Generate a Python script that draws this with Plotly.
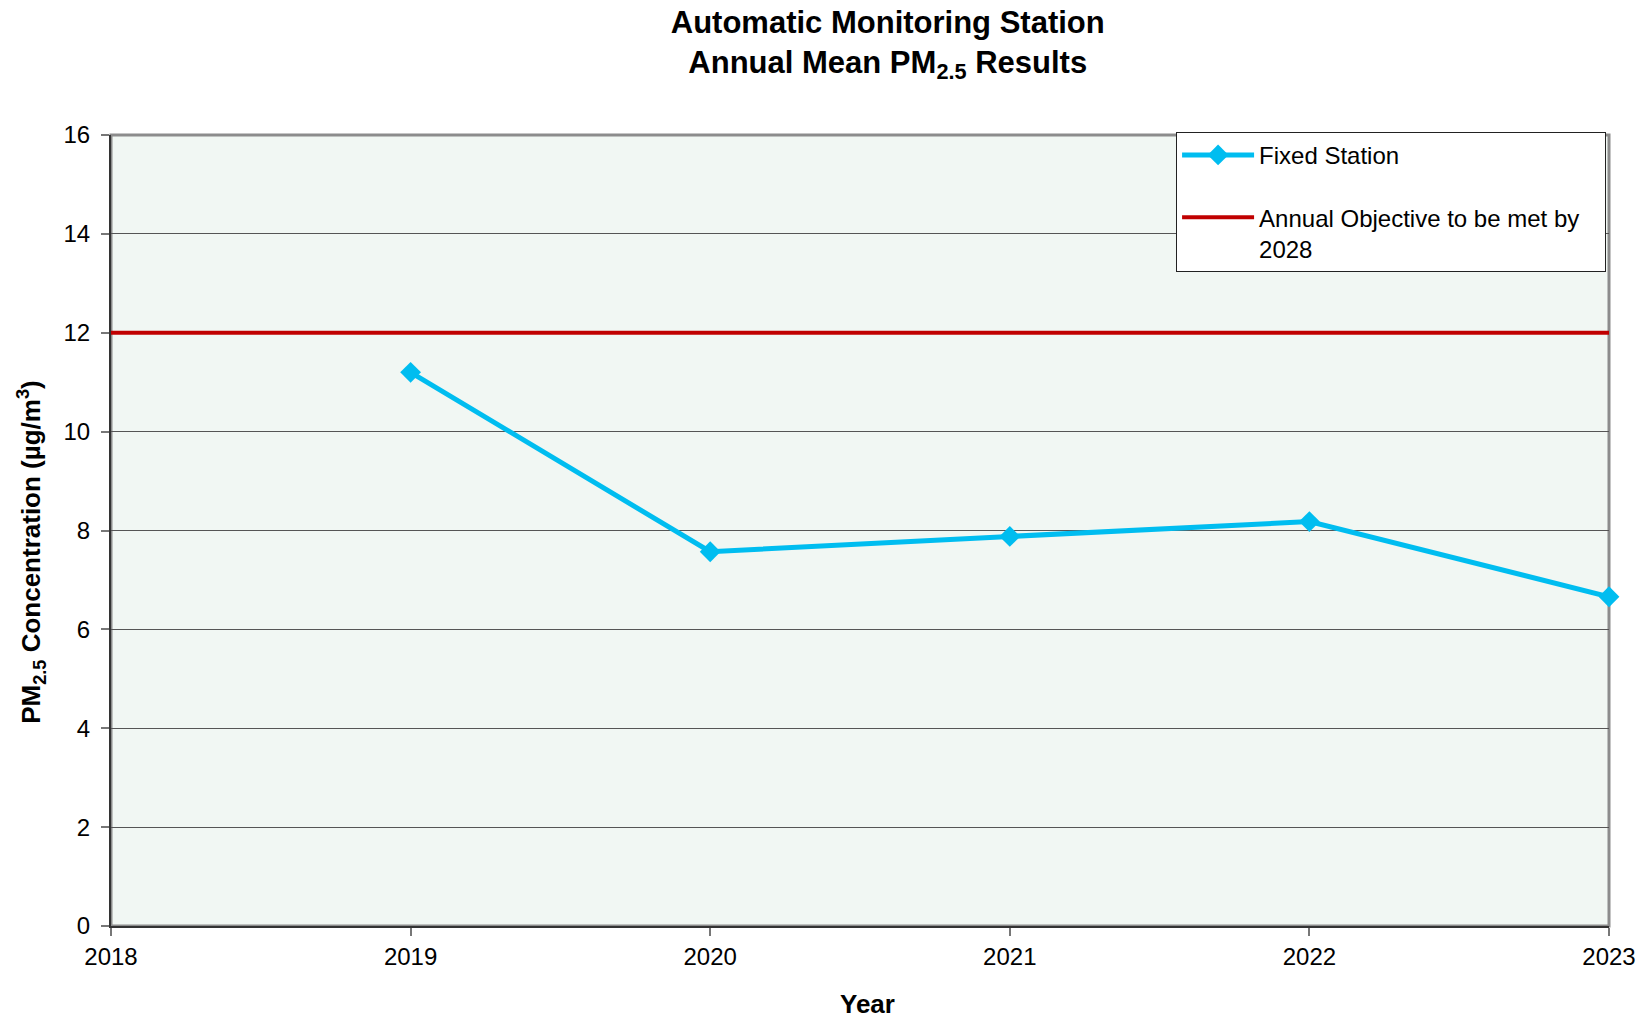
import plotly.graph_objects as go

years = [2019, 2020, 2021, 2022, 2023]
fixed_station = [11.2, 7.57, 7.88, 8.18, 6.66]
objective_x = [2018, 2023]
objective_y = [12, 12]
x_ticks = [2018, 2019, 2020, 2021, 2022, 2023]
y_ticks = [0, 2, 4, 6, 8, 10, 12, 14, 16]

FONT = "Liberation Sans, Arial, sans-serif"
NB = "\u00a0"

fig = go.Figure()
fig.add_trace(go.Scatter(
    x=years, y=fixed_station, name="Fixed Station", mode="lines+markers",
    line=dict(color="#00BDF0", width=5),
    marker=dict(symbol="diamond", size=16, color="#00BDF0"),
    legendgroup="a", cliponaxis=False,
))
fig.add_trace(go.Scatter(
    x=objective_x, y=objective_y,
    name="Annual Objective to be met by" + NB * 3 + "<br>2028",
    mode="lines", line=dict(color="#C00000", width=4),
    legendgroup="b", cliponaxis=False,
))

fig.update_layout(
    width=1644, height=1020,
    margin=dict(l=111, r=35, t=135, b=94, autoexpand=False),
    paper_bgcolor="white",
    plot_bgcolor="#F1F7F3",
    font=dict(family=FONT, size=24, color="black"),
    title=dict(
        text="<b>Automatic Monitoring Station<br>Annual Mean PM<sub>2.5</sub> Results</b>",
        x=0.54, xanchor="center", y=0.968, yanchor="top",
        font=dict(family=FONT, size=31, color="black"),
    ),
    showlegend=True,
    legend=dict(
        x=0.711, y=1.004, xanchor="left", yanchor="top",
        bgcolor="white", bordercolor="#222222", borderwidth=1,
        font=dict(family=FONT, size=24, color="black"),
        traceorder="grouped", tracegroupgap=28, valign="top",
        itemwidth=72,
    ),
    shapes=[dict(
        type="rect", xref="paper", yref="paper", x0=0, y0=0, x1=1, y1=1,
        line=dict(color="#8C8C8C", width=3), layer="below",
    )],
    annotations=[
        dict(text="<b>PM<sub>2.5</sub> Concentration (µg/m<sup>3</sup>)</b>",
             xref="paper", yref="paper", x=-0.0534, y=0.473,
             xanchor="center", yanchor="middle", textangle=-90,
             showarrow=False, font=dict(family=FONT, size=26, color="black")),
        dict(text="<b>Year</b>",
             xref="paper", yref="paper", x=0.505, y=-0.0986,
             xanchor="center", yanchor="middle",
             showarrow=False, font=dict(family=FONT, size=26, color="black")),
    ],
)

fig.update_xaxes(
    range=[2018, 2023], tickvals=x_ticks, ticktext=[str(v) for v in x_ticks],
    showgrid=False, zeroline=False,
    showline=True, linecolor="#333333", linewidth=2,
    ticks="outside", ticklen=8, tickcolor="#777777", tickwidth=1.5,
    tickfont=dict(size=24),
)
fig.update_yaxes(
    range=[0, 16], tickvals=y_ticks,
    showgrid=True, gridcolor="#555555", gridwidth=1.3,
    zeroline=False,
    showline=True, linecolor="#333333", linewidth=2,
    ticks="outside", ticklen=8, tickcolor="#777777", tickwidth=1.5,
    tickfont=dict(size=24), ticklabelstandoff=6,
)

fig.write_html("out.html")
